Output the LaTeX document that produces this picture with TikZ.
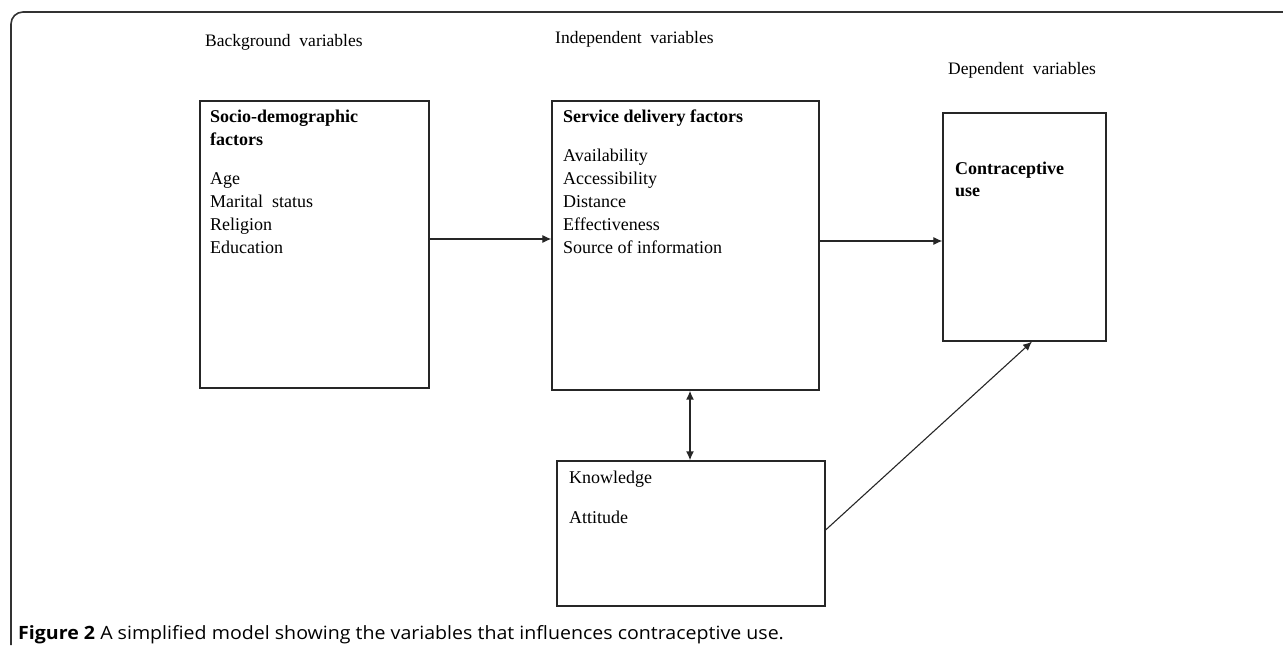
\documentclass[tikz,border=0pt]{standalone}
\usepackage{fontspec}
\setmainfont{Liberation Serif}
\newfontfamily\capfont[FakeStretch=1.07]{Open Sans}
\usetikzlibrary{arrows.meta}
\tikzset{
  box/.style={draw=black!85, line width=1.2pt, rectangle, inner sep=0pt},
  txt/.style={anchor=base west, inner sep=0pt, font=\fontsize{18}{23}\selectfont},
  head/.style={anchor=base west, inner sep=0pt, font=\fontsize{17.5}{20}\selectfont},
  conn/.style={black!85, line width=1.1pt, -{Latex[length=9pt,width=8pt]}},
}
\begin{document}
\begin{tikzpicture}[x=1pt,y=-1pt]
\useasboundingbox (0,0) rectangle (1283,647);
% frame
\draw[black!80, line width=1.6pt, rounded corners=12pt] (11,645) -- (11,12) -- (1283,12);
% headings
\node[head] (hb) at (205,47) {Background\ \ variables};
\node[head] (hi) at (555,44) {Independent\ \ variables};
\node[head] (hd) at (948,75) {Dependent\ \ variables};
% boxes
\node[box, minimum width=229pt, minimum height=287pt] (socio) at (314.5,244.5) {};
\node[box, minimum width=267pt, minimum height=289pt] (serv) at (685.5,245.5) {};
\node[box, minimum width=163pt, minimum height=228pt] (contra) at (1024.5,227) {};
\node[box, minimum width=268pt, minimum height=145pt] (know) at (691,533.5) {};
% texts
\node[txt] (s1) at (210,123) {\textbf{Socio-demographic}};
\node[txt] (s2) at (210,146) {\textbf{factors}};
\node[txt] (s3) at (210,185) {Age};
\node[txt] (s4) at (210,208) {Marital\ \ status};
\node[txt] (s5) at (210,231) {Religion};
\node[txt] (s6) at (210,254) {Education};
\node[txt] (v1) at (563,123) {\textbf{Service delivery factors}};
\node[txt] (v2) at (563,162) {Availability};
\node[txt] (v3) at (563,185) {Accessibility};
\node[txt] (v4) at (563,208) {Distance};
\node[txt] (v5) at (563,231) {Effectiveness};
\node[txt] (v6) at (563,254) {Source of information};
\node[txt] (c1) at (955,175) {\textbf{Contraceptive}};
\node[txt] (c2) at (955,197) {\textbf{use}};
\node[txt] (k1) at (569,483) {Knowledge};
\node[txt] (k2) at (569,523) {Attitude};
% connectors
\draw[conn] (socio.east |- 0,239) -- (serv.west |- 0,239);
\draw[conn] (serv.east |- 0,241) -- (contra.west |- 0,241);
\draw[conn, line width=1.6pt, {Latex[length=9pt,width=8pt]}-{Latex[length=9pt,width=8pt]}] (serv.south -| 690,0) -- (know.north -| 690,0);
\draw[conn] (know.east |- 0,530) -- (contra.south -| 1032,0);
% caption
\node[anchor=base west, inner sep=0pt, font=\capfont\fontsize{18.3}{20}\selectfont] (cap) at (18,639) {\textbf{Figure 2} A simplified model showing the variables that influences contraceptive use.};
\end{tikzpicture}
\end{document}
